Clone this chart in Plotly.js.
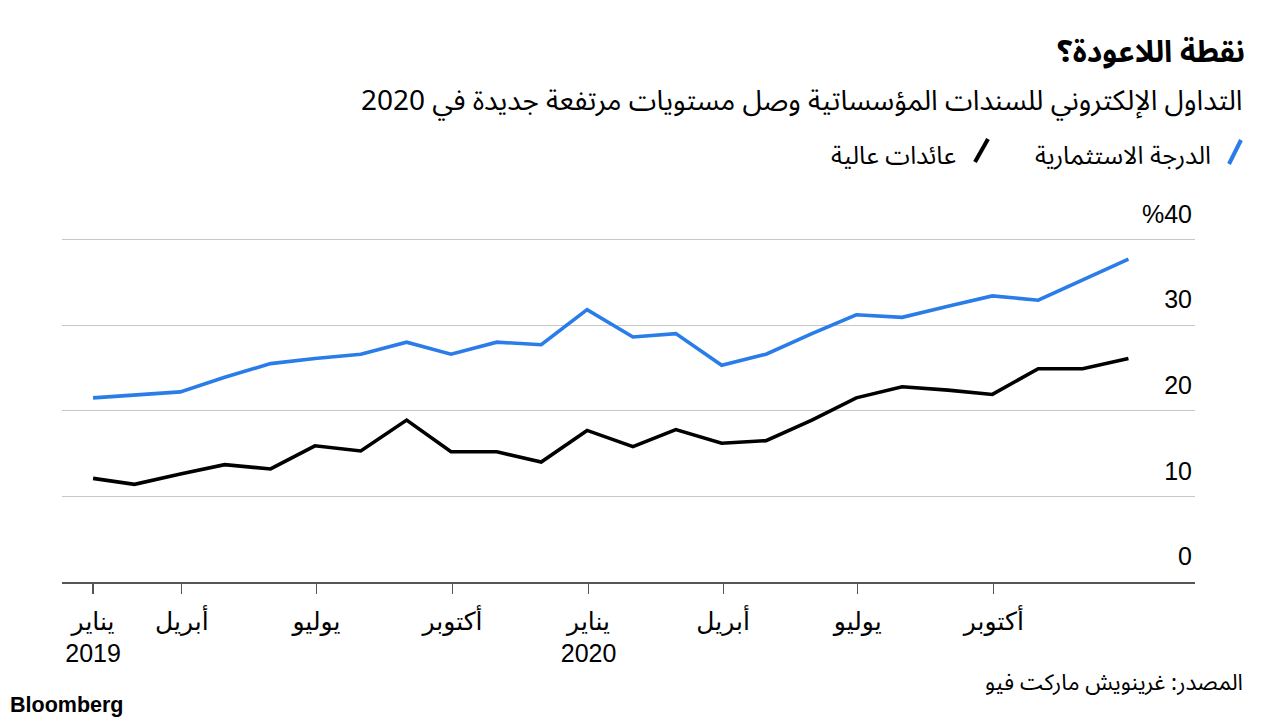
<!DOCTYPE html>
<html>
<head>
<meta charset="utf-8">
<script src="https://cdn.plot.ly/plotly-3.0.1.min.js"></script>
<style>
  html, body { margin: 0; padding: 0; background: #ffffff; }
  #chart { width: 1280px; height: 720px; }
</style>
</head>
<body>
<div id="chart"></div>
<script>
// Month-end observations, Jan 2019 - Dec 2020
const dates = [
  '2019-01-31','2019-02-28','2019-03-31','2019-04-30','2019-05-31','2019-06-30',
  '2019-07-31','2019-08-31','2019-09-30','2019-10-31','2019-11-30','2019-12-31',
  '2020-01-31','2020-02-29','2020-03-31','2020-04-30','2020-05-31','2020-06-30',
  '2020-07-31','2020-08-31','2020-09-30','2020-10-31','2020-11-30','2020-12-31'
];
const investmentGrade = [
  21.5, 21.8, 22.2, 23.9, 25.5, 26.1, 26.6, 28.0, 26.6, 28.0, 27.7, 31.8,
  28.6, 29.0, 25.3, 26.6, 29.0, 31.2, 30.9, 32.2, 33.4, 32.9, 35.3, 37.7
];
const highYield = [
  12.1, 11.4, 12.6, 13.7, 13.2, 15.9, 15.3, 18.9, 15.2, 15.2, 14.0, 17.7,
  15.8, 17.8, 16.2, 16.5, 18.9, 21.5, 22.8, 22.4, 21.9, 24.9, 24.9, 26.1
];
const seriesNames = ['الدرجة الاستثمارية', 'عائدات عالية'];
const seriesColors = ['#2a7de8', '#000000'];

const xTickVals = ['2019-01-31','2019-04-01','2019-07-01','2019-10-01','2020-01-01','2020-04-01','2020-07-01','2020-10-01'];
const xTickText = ['يناير<br>2019','أبريل','يوليو','أكتوبر','يناير<br>2020','أبريل','يوليو','أكتوبر'];
const yTickVals = [0, 10, 20, 30, 40];
const yTickText = ['0', '10', '20', '30', '%40'];

const titleText = 'نقطة اللاعودة؟';
const subtitleText = 'التداول الإلكتروني للسندات المؤسساتية وصل مستويات مرتفعة جديدة في 2020';
const sourceText = 'المصدر: غرينويش ماركت فيو';
const brandText = 'Bloomberg';

const W = 1280, H = 720;
const M = { l: 62, r: 85, t: 188, b: 138 };
const plotW = W - M.l - M.r, plotH = H - M.t - M.b;
const px = x => (x - M.l) / plotW;
const py = y => (H - M.b - y) / plotH;

const arFont = "'Noto Sans Arabic', 'DejaVu Sans', sans-serif";
const numFont = "'Liberation Sans', 'DejaVu Sans', sans-serif";

const traces = [
  { x: dates, y: highYield, name: seriesNames[1], type: 'scatter', mode: 'lines',
    line: { color: seriesColors[1], width: 3.6 }, hoverinfo: 'skip' },
  { x: dates, y: investmentGrade, name: seriesNames[0], type: 'scatter', mode: 'lines',
    line: { color: seriesColors[0], width: 3.6 }, hoverinfo: 'skip' }
];

const layout = {
  width: W, height: H,
  margin: M,
  paper_bgcolor: '#ffffff', plot_bgcolor: '#ffffff',
  showlegend: false,
  font: { family: numFont, color: '#000' },
  title: {
    text: '<b>' + titleText + '</b>',
    xref: 'container', yref: 'container',
    x: 1245 / W, xanchor: 'right',
    y: 1 - 51 / H, yanchor: 'middle',
    font: { family: arFont, size: 30, color: '#000' }
  },
  xaxis: {
    type: 'date',
    range: ['2019-01-10', '2021-02-14'],
    tickvals: xTickVals, ticktext: xTickText,
    showgrid: false, zeroline: false,
    showline: true, linecolor: '#555555', linewidth: 1.5,
    ticks: 'outside', ticklen: 10, tickwidth: 1.2, tickcolor: '#555555',
    ticklabelstandoff: 6,
    tickfont: { family: numFont, size: 25, color: '#000' },
    fixedrange: true
  },
  yaxis: {
    range: [0, 46],
    side: 'right',
    tickvals: yTickVals, ticktext: yTickText,
    ticklabelposition: 'inside top',
    ticklabelshift: -8,
    showgrid: true, gridcolor: '#c8c8c8', gridwidth: 1,
    zeroline: false, showline: false, ticks: '',
    tickfont: { family: numFont, size: 25, color: '#000' },
    fixedrange: true
  },
  shapes: [
    { type: 'line', xref: 'paper', yref: 'paper',
      x0: px(1229), y0: py(164), x1: px(1241), y1: py(140),
      line: { color: seriesColors[0], width: 4 } },
    { type: 'line', xref: 'paper', yref: 'paper',
      x0: px(975), y0: py(162), x1: px(988), y1: py(139),
      line: { color: seriesColors[1], width: 4 } }
  ],
  annotations: [
    { text: subtitleText, xref: 'paper', yref: 'paper', x: px(1245), y: py(102),
      xanchor: 'right', yanchor: 'middle', showarrow: false,
      font: { family: arFont, size: 28, color: '#000' } },
    { text: seriesNames[0], xref: 'paper', yref: 'paper', x: px(1213), y: py(156),
      xanchor: 'right', yanchor: 'middle', showarrow: false,
      font: { family: arFont, size: 25, color: '#000' } },
    { text: seriesNames[1], xref: 'paper', yref: 'paper', x: px(958), y: py(156),
      xanchor: 'right', yanchor: 'middle', showarrow: false,
      font: { family: arFont, size: 25, color: '#000' } },
    { text: sourceText, xref: 'paper', yref: 'paper', x: px(1245), y: py(683),
      xanchor: 'right', yanchor: 'middle', showarrow: false,
      font: { family: arFont, size: 22.5, color: '#000' } },
    { text: '<b>' + brandText + '</b>', xref: 'paper', yref: 'paper', x: px(8), y: py(705),
      xanchor: 'left', yanchor: 'middle', showarrow: false,
      font: { family: numFont, size: 21.5, color: '#000' } }
  ]
};

Plotly.newPlot('chart', traces, layout, { displayModeBar: false, staticPlot: true });
</script>
</body>
</html>
